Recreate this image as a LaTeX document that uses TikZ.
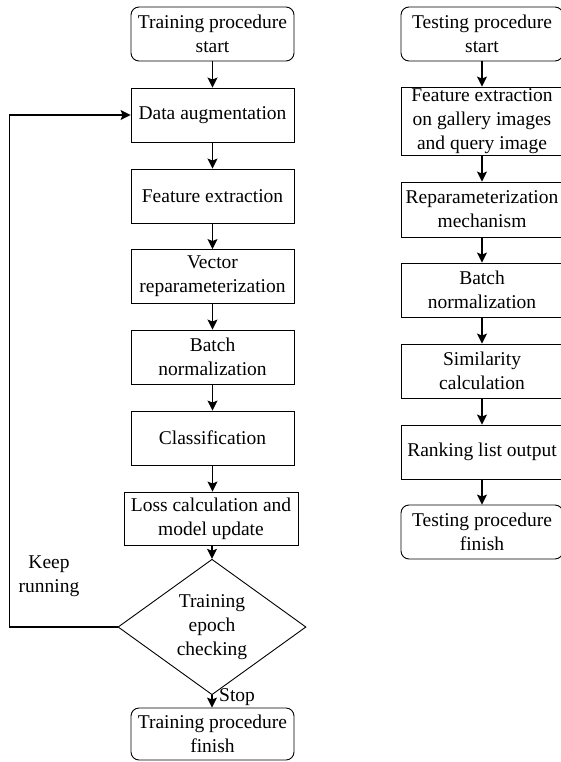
\documentclass[tikz,border=0pt]{standalone}
\usepackage{fontspec}
\setmainfont{Liberation Serif}
\usetikzlibrary{shapes.geometric,arrows.meta}
\begin{document}
\begin{tikzpicture}[x=1pt,y=-1pt,
  base/.style={draw=black,line width=0.9pt,align=center,inner sep=0pt,
    font=\fontsize{19.5}{24}\selectfont},
  procbox/.style={base,rectangle,minimum width=163pt,minimum height=54pt},
  termbox/.style={procbox,rounded corners=8pt},
  decbox/.style={base,diamond,minimum width=188pt,minimum height=107pt},
  arr/.style={draw=black,line width=1.1pt,-{Stealth[length=10pt,width=10pt,inset=2pt]}},
  lbl/.style={font=\fontsize{19.5}{24}\selectfont,align=center,inner sep=0pt}]
\useasboundingbox (0,0) rectangle (560,762);
% training column
\node[termbox] (ts) at (212.5,34) {Training procedure\\start};
\node[procbox] (da) at (212.5,115) {Data augmentation};
\node[procbox] (fe) at (212.5,196) {Feature extraction};
\node[procbox] (vr) at (212.5,276.5) {Vector\\reparameterization};
\node[procbox] (bn) at (212.5,357) {Batch\\normalization};
\node[procbox] (cl) at (212.5,438) {Classification};
\node[procbox,minimum width=174pt,minimum height=53pt] (lo) at (211,518.5) {Loss calculation and\\model update};
\node[decbox] (dc) at (212,627) {Training\\epoch\\checking};
\node[termbox,minimum height=52pt] (tf) at (212.5,734) {Training procedure\\finish};
\draw[arr] (ts) -- (da);
\draw[arr] (da) -- (fe);
\draw[arr] (fe) -- (vr);
\draw[arr] (vr) -- (bn);
\draw[arr] (bn) -- (cl);
\draw[arr] (cl.south) -- (cl.south |- lo.north);
\draw[arr] (dc.north |- lo.south) -- (dc.north);
\draw[arr] (dc.south) -- (dc.south |- tf.north);
\draw[arr] (dc.west) -- ++(-108,0) |- (da.west);
\node[lbl] (kr) at (49,576) {Keep\\running};
\node[lbl,anchor=west] (st) at (219,697) {Stop};
% testing column
\node[termbox,minimum width=162pt] (es) at (482,34) {Testing procedure\\start};
\node[procbox,minimum width=162pt,minimum height=68pt] (eg) at (482,121) {Feature extraction\\on gallery images\\and query image};
\node[procbox,minimum width=162pt,minimum height=55pt] (em) at (482,209.5) {Reparameterization\\mechanism};
\node[procbox,minimum width=162pt] (eb) at (482,290) {Batch\\normalization};
\node[procbox,minimum width=162pt] (esi) at (482,371) {Similarity\\calculation};
\node[procbox,minimum width=162pt] (er) at (482,452) {Ranking list output};
\node[termbox,minimum width=162pt] (ef) at (482,532) {Testing procedure\\finish};
\draw[arr] (es) -- (eg);
\draw[arr] (eg) -- (em);
\draw[arr] (em) -- (eb);
\draw[arr] (eb) -- (esi);
\draw[arr] (esi) -- (er);
\draw[arr] (er) -- (ef);
\end{tikzpicture}
\end{document}
